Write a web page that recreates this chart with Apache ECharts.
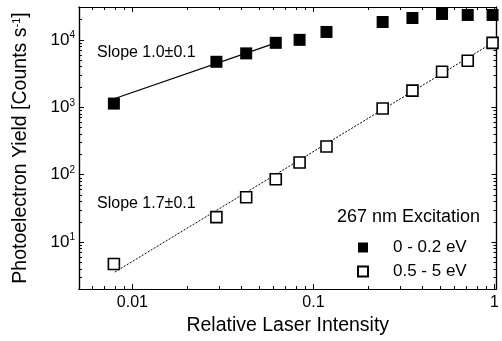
<!DOCTYPE html>
<html>
<head>
<meta charset="utf-8">
<script src="https://cdn.jsdelivr.net/npm/echarts@6/dist/echarts.min.js"></script>
<style>
  html, body { margin: 0; padding: 0; background: #fff; }
  #chart { width: 502px; height: 341px; }
</style>
</head>
<body>
<div id="chart"></div>
<script>
// relative laser intensity (same for both energy windows)
const intensity = [0.0079, 0.0291, 0.0425, 0.0619, 0.0838, 0.118, 0.241, 0.352, 0.513, 0.711, 0.975]
// 0 - 0.2 eV electrons (filled squares)
const yieldLow = [1135, 4730, 6300, 9030, 10000, 13100, 18400, 21100, 24200, 23400, 23400]
// 0.5 - 5 eV electrons (open squares)
const yieldHigh = [4.75, 23.5, 46.4, 85.5, 152, 262, 957, 1766, 3366, 4900, 9030]

// fitted power laws, end points
const fitLowX = [0.0080, 0.062]
const fitLowY = [1350, 9000]
const fitHighX = [0.0080, 0.975]
const fitHighY = [3.6, 9030]

const xMajor = [0.01, 0.1, 1]
const xMinor = [0.006, 0.007, 0.008, 0.009, 0.02, 0.03, 0.04, 0.05, 0.06, 0.07, 0.08, 0.09,
  0.2, 0.3, 0.4, 0.5, 0.6, 0.7, 0.8, 0.9]
const yMajor = [10, 100, 1000, 10000]
const yMinor = [3, 4, 5, 6, 7, 8, 9, 20, 30, 40, 50, 60, 70, 80, 90, 200, 300, 400, 500, 600, 700, 800, 900,
  2000, 3000, 4000, 5000, 6000, 7000, 8000, 9000, 20000, 30000]

const seriesNames = ['0 - 0.2 eV', '0.5 - 5 eV']

const xRange = [0.00507, 1.025]
const yRange = [2.02, 30700]
const font = 'Liberation Sans, Arial, Helvetica, sans-serif'

function pairs(xs, ys) {
  return xs.map((x, i) => [x, ys[i]])
}

function xAxisDef(position, ticks, len, withLabels) {
  return {
    type: 'log',
    position: position,
    min: xRange[0],
    max: xRange[1],
    axisLine: { show: true, onZero: false, lineStyle: { color: '#000', width: 1.2 } },
    axisTick: { show: true, inside: true, length: len, customValues: ticks, lineStyle: { color: '#000', width: 1 } },
    axisLabel: {
      show: withLabels,
      customValues: xMajor,
      margin: 6,
      color: '#000',
      fontFamily: font,
      fontSize: 16,
      formatter: v => String(+v.toPrecision(3))
    },
    splitLine: { show: false },
    minorTick: { show: false }
  }
}

function yAxisDef(position, ticks, len, withLabels) {
  return {
    type: 'log',
    position: position,
    min: yRange[0],
    max: yRange[1],
    axisLine: { show: true, onZero: false, lineStyle: { color: '#000', width: 1.2 } },
    axisTick: { show: true, inside: true, length: len, customValues: ticks, lineStyle: { color: '#000', width: 1 } },
    axisLabel: {
      show: withLabels,
      customValues: yMajor,
      margin: 4,
      color: '#000',
      fontFamily: font,
      formatter: v => '{b|10}{e|' + Math.round(Math.log10(v)) + '}',
      rich: {
        b: { fontSize: 17, lineHeight: 19, fontFamily: font, color: '#000' },
        e: { fontSize: 10, lineHeight: 10, verticalAlign: 'top', fontFamily: font, color: '#000' }
      }
    },
    splitLine: { show: false },
    minorTick: { show: false }
  }
}

const chart = echarts.init(document.getElementById('chart'), null, { renderer: 'canvas' })

const xAxes = [
  xAxisDef('bottom', xMajor, 5, true),
  xAxisDef('bottom', xMinor, 3, false),
  xAxisDef('top', xMajor, 5, false),
  xAxisDef('top', xMinor, 3, false)
]
xAxes[0].name = 'Relative Laser Intensity'
xAxes[0].nameLocation = 'middle'
xAxes[0].nameGap = 27
xAxes[0].nameTextStyle = { fontSize: 19.5, color: '#000', fontFamily: font }

const yAxes = [
  yAxisDef('left', yMajor, 5, true),
  yAxisDef('left', yMinor, 3, false),
  yAxisDef('right', yMajor, 5, false),
  yAxisDef('right', yMinor, 3, false)
]
yAxes[0].name = 'Photoelectron Yield [Counts s{e|-1}]'
yAxes[0].nameLocation = 'middle'
yAxes[0].nameGap = 48
yAxes[0].nameTextStyle = {
  fontSize: 19.5, color: '#000', fontFamily: font,
  rich: {
    e: { fontSize: 11, lineHeight: 11, verticalAlign: 'top', fontFamily: font, color: '#000' }
  }
}

chart.setOption({
  backgroundColor: '#fff',
  animation: false,
  grid: { left: 79, right: 1, top: 7, bottom: 51 },
  xAxis: xAxes,
  yAxis: yAxes,
  legend: {
    data: seriesNames,
    orient: 'vertical',
    left: 352,
    top: 234,
    itemWidth: 10,
    itemHeight: 10,
    itemGap: 7,
    textStyle: { fontSize: 17, lineHeight: 17, color: '#000', fontFamily: font, padding: [0, 0, 0, 20] }
  },
  graphic: [
    { type: 'text', left: 337, top: 208, style: { text: '267 nm Excitation', fontSize: 18, fontFamily: font, fill: '#000' } },
    { type: 'text', left: 97, top: 45, style: { text: 'Slope 1.0\u00b10.1', fontSize: 16, fontFamily: font, fill: '#000' } },
    { type: 'text', left: 97, top: 196, style: { text: 'Slope 1.7\u00b10.1', fontSize: 16, fontFamily: font, fill: '#000' } }
  ],
  series: [
    {
      name: 'fitLow',
      type: 'line',
      data: pairs(fitLowX, fitLowY),
      symbol: 'none',
      lineStyle: { color: '#000', width: 1.3 },
      z: 1
    },
    {
      name: 'fitHigh',
      type: 'line',
      data: pairs(fitHighX, fitHighY),
      symbol: 'none',
      lineStyle: { color: '#000', width: 1, type: [2, 1.5] },
      z: 1
    },
    {
      name: seriesNames[0],
      type: 'scatter',
      data: pairs(intensity, yieldLow),
      symbol: 'rect',
      symbolSize: 12,
      itemStyle: { color: '#000', opacity: 1 },
      z: 3
    },
    {
      name: seriesNames[1],
      type: 'scatter',
      data: pairs(intensity, yieldHigh),
      symbol: 'rect',
      symbolSize: 11,
      itemStyle: { color: '#fff', borderColor: '#000', borderWidth: 1.6, opacity: 1 },
      z: 3
    }
  ]
})
</script>
</body>
</html>
